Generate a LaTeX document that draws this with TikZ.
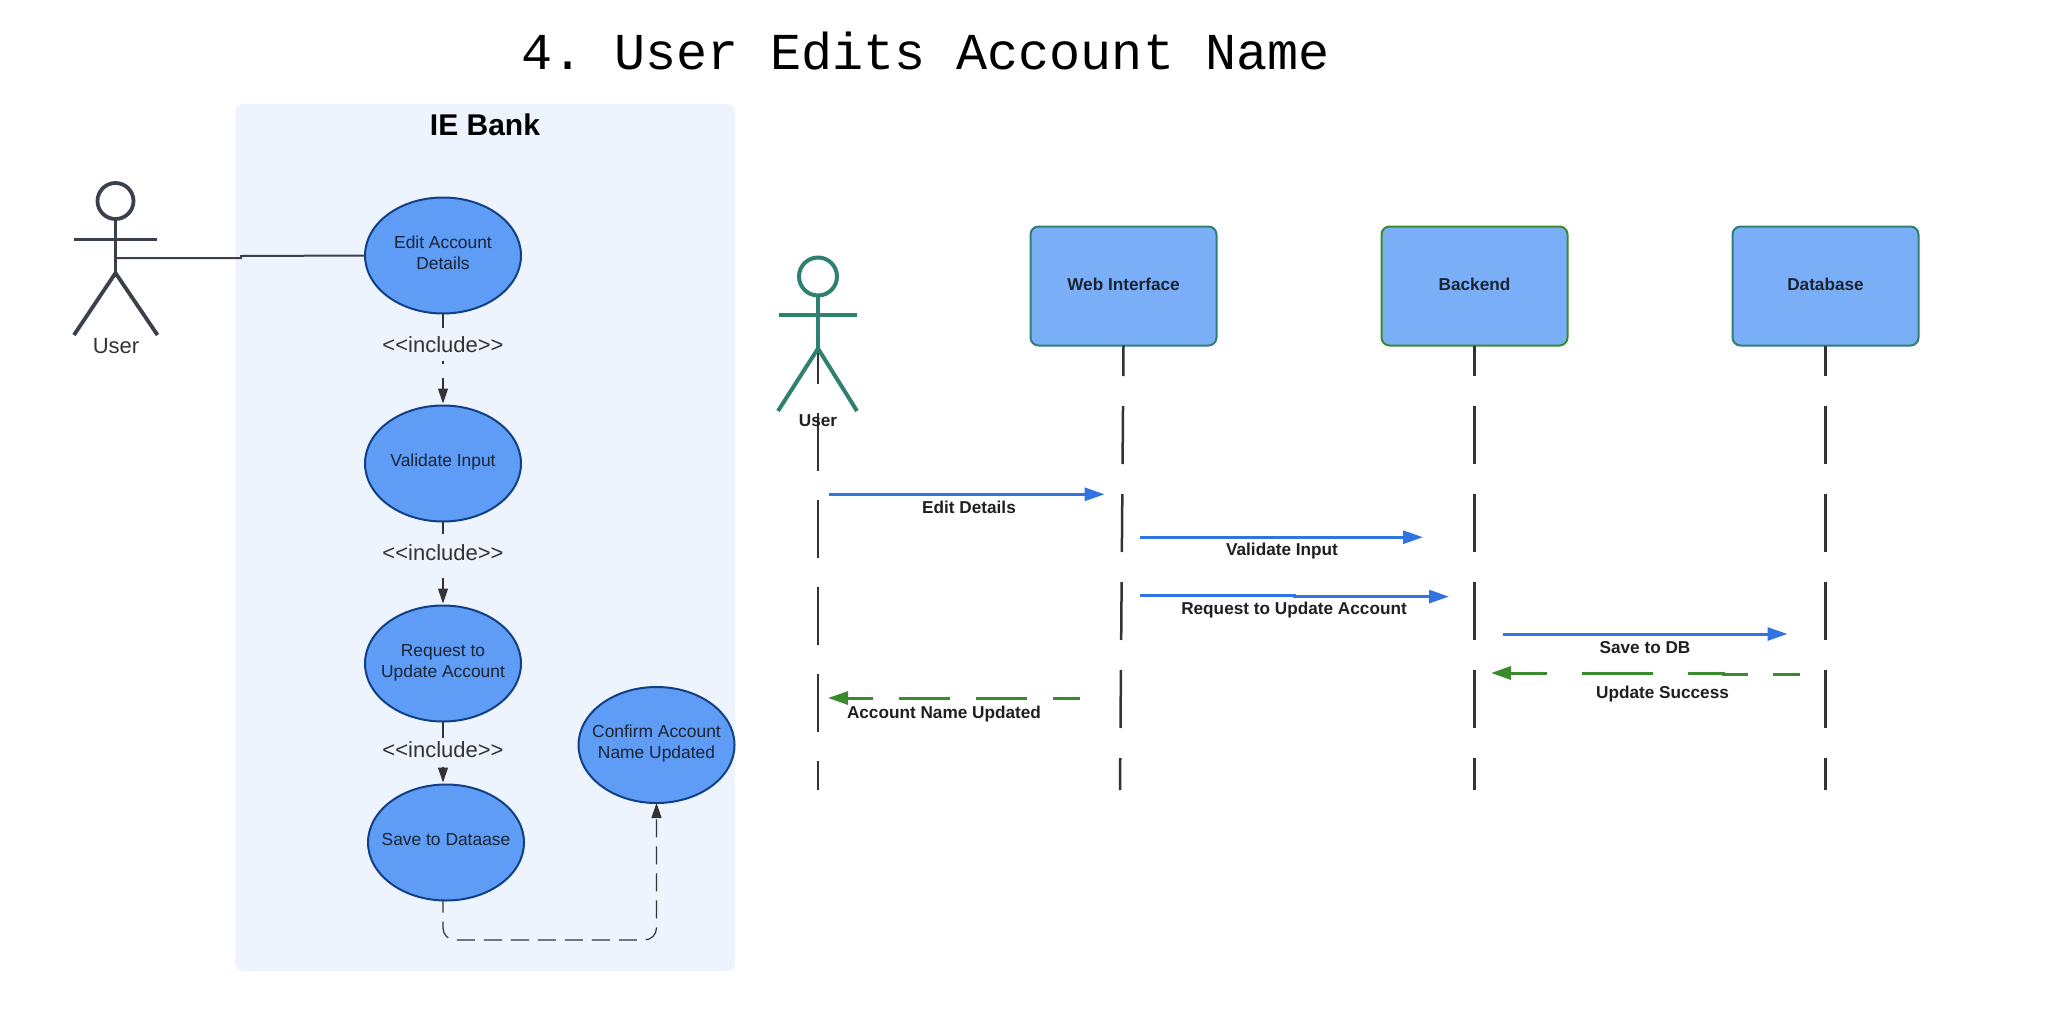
\documentclass[tikz,border=0pt]{standalone}
\usepackage{fontspec}
\setmainfont{Liberation Sans}
\newfontfamily\monof{Liberation Mono}
\usetikzlibrary{arrows.meta,shapes.geometric}
\frenchspacing
\definecolor{panelfill}{HTML}{EDF4FE}
\definecolor{usefill}{HTML}{5E9CF5}
\definecolor{usedraw}{HTML}{123F85}
\definecolor{boxfill}{HTML}{7AAFF8}
\definecolor{tealc}{HTML}{2F8070}
\definecolor{greenc}{HTML}{3A8A2E}
\definecolor{bluec}{HTML}{2F74E0}
\definecolor{darkc}{HTML}{333333}
\definecolor{actorc}{HTML}{3A414A}
\definecolor{inktext}{HTML}{1A2433}
\newcommand{\uctext}[1]{\raisebox{-3.3pt}{\smash{\makebox[0pt]{\begin{tabular}{@{}c@{}}#1\end{tabular}}}}}
\tikzset{
  usecase/.style={ellipse,draw=usedraw,fill=usefill,line width=1pt,minimum width=78pt,minimum height=58pt,inner sep=0pt,outer sep=0pt,align=center,text=inktext,font=\fontsize{8.7pt}{10.5pt}\selectfont},
  lifebox/.style={rectangle,rounded corners=4pt,fill=boxfill,line width=1pt,minimum width=93pt,minimum height=59.5pt,inner sep=0pt,outer sep=0pt,text=inktext,font=\bfseries\fontsize{8.6pt}{10.5pt}\selectfont},
  msglabel/.style={text=black!88,inner sep=0pt,font=\bfseries\fontsize{8.6pt}{10.5pt}\selectfont},
  inclabel/.style={text=darkc,inner sep=0pt,font=\fontsize{11pt}{13pt}\selectfont},
  inclink/.style={draw=darkc,line width=0.6pt,-{Triangle[length=7.5pt,width=5pt]},shorten >=1pt},
  lifeline/.style={draw=darkc,line width=1.25pt,dash pattern=on 29pt off 15pt,dash phase=13.75pt},
  callmsg/.style={draw=bluec,line width=1.5pt,-{Triangle[length=10pt,width=6.5pt]}},
  backmsg/.style={draw=greenc,line width=1.5pt,-{Triangle[length=10pt,width=6.5pt]}},
  actorline/.style={line width=1.9pt,line cap=butt},
}
\begin{document}
\begin{tikzpicture}[x=0.5pt,y=-0.5pt]
\useasboundingbox (0,0) rectangle (2066,1028);
\node[anchor=base,inner sep=0pt,text=black,font=\monof\fontsize{25.9pt}{30pt}\selectfont] (title) at (925.5,69) {4. User Edits Account Name};
% panel
\fill[panelfill,rounded corners=4pt] (235,104) rectangle (735,971);
\node[anchor=base,inner sep=0pt,text=black,font=\bfseries\fontsize{15pt}{18pt}\selectfont] (bank) at (485,135) {IE Bank};
% use cases
\node[usecase] (e1) at (443,255.5) {\uctext{Edit Account\\Details}};
\node[usecase] (e2) at (443,463.5) {\uctext{Validate Input}};
\node[usecase] (e3) at (443,663.5) {\uctext{Request to\\Update Account}};
\node[usecase] (e4) at (446,842.5) {\uctext{Save to Dataase}};
\node[usecase] (e5) at (656.5,745) {\uctext{Confirm Account\\Name Updated}};
% include links
\draw[inclink,dash pattern=on 7pt off 16.5pt on 1.5pt off 7pt on 30pt off 1pt] (e1.south) -- (e2.north);
\draw[inclink,dash pattern=on 6pt off 22pt on 30pt off 1pt] (e2.south) -- (e3.north);
\draw[inclink,dash pattern=on 8pt off 14.5pt on 30pt off 1pt] (e3.south) -- (e3.south |- e4.north);
\node[inclabel] (i1) at (443,345) {<{}<include>{}>};
\node[inclabel] (i2) at (443,553) {<{}<include>{}>};
\node[inclabel] (i3) at (443,750) {<{}<include>{}>};
% return link
\coordinate (rb) at (443,940);
\coordinate (rc) at (656.5,940);
\draw[inclink,shorten >=0pt,rounded corners=6pt,dash pattern=on 9pt off 4.5pt,dash phase=3pt] (e3.south |- e4.south) -- (rb) -- (rc) -- (e5.south);
% left actor
\node[circle,draw=actorc,line width=1.9pt,minimum size=18pt,inner sep=0pt,outer sep=0pt] (ua) at (115.5,201) {};
\coordinate (ua hip) at (115.5,273);
\coordinate (ua la) at (74,239.5);
\coordinate (ua ra) at (157,239.5);
\coordinate (ua ll) at (74,335);
\coordinate (ua rl) at (157.5,335);
\draw[actorc,actorline] (ua.south) -- (ua hip);
\draw[actorc,actorline] (ua la) -- (ua ra);
\draw[actorc,actorline,line join=miter] (ua ll) -- (ua hip) -- (ua rl);
\node[anchor=base,inner sep=0pt,text=darkc,font=\fontsize{11pt}{13pt}\selectfont] (ual) at (116,353) {User};
\coordinate (ua hand) at (116,258);
\coordinate (ua jog1) at (241,258);
\coordinate (ua jog2) at (241,256);
\draw[actorc,line width=1pt] (ua hand) -- (ua jog1) -- (ua jog2) -- (e1.west);
% lifeline boxes
\node[lifebox,draw=tealc] (web) at (1123.5,286) {\raisebox{1.7pt}{Web Interface}};
\node[lifebox,draw=greenc] (back) at (1474.5,286) {\raisebox{1.7pt}{Backend}};
\node[lifebox,draw=tealc] (db) at (1825.5,286) {\raisebox{1.7pt}{Database}};
\coordinate (web end) at (1120,790);
\coordinate (back end) at (1474.5,790);
\coordinate (db end) at (1825.5,790);
\draw[lifeline] (web.south) -- (web end);
\draw[lifeline] (back.south) -- (back end);
\draw[lifeline] (db.south) -- (db end);
% right actor
\coordinate (ub top) at (818,326);
\coordinate (ub end) at (818,790);
\draw[draw=darkc,line width=1.25pt,dash pattern=on 29pt off 14.5pt] (ub top) -- (ub end);
\node[circle,draw=tealc,line width=2pt,minimum size=19pt,inner sep=0pt,outer sep=0pt] (ub) at (818,276.5) {};
\coordinate (ub hip) at (818,348.5);
\coordinate (ub la) at (779,315);
\coordinate (ub ra) at (857,315);
\coordinate (ub ll) at (778,411);
\coordinate (ub rl) at (857,411);
\draw[tealc,line width=2pt] (ub.south) -- (ub hip);
\draw[tealc,line width=2pt] (ub la) -- (ub ra);
\draw[tealc,line width=2pt] (ub ll) -- (ub hip) -- (ub rl);
\node[msglabel,anchor=base] (ubl) at (818,426) {User};
% messages
\coordinate (m1a) at (829,494.3);
\coordinate (m1b) at (1104.6,494.3);
\draw[callmsg] (m1a) -- (m1b);
\node[msglabel] (m1) at (969,507.8) {Edit Details};
\coordinate (m2a) at (1140,537.2);
\coordinate (m2b) at (1423,537.2);
\draw[callmsg] (m2a) -- (m2b);
\node[msglabel] (m2) at (1282,551.3) {Validate Input};
\coordinate (m3a) at (1140,595.4);
\coordinate (m3j) at (1294,595.4);
\coordinate (m3k) at (1294,596.6);
\coordinate (m3b) at (1449,596.6);
\draw[callmsg] (m3a) -- (m3j) -- (m3k) -- (m3b);
\node[msglabel] (m3) at (1294,610.3) {Request to Update Account};
\coordinate (m4a) at (1503,634);
\coordinate (m4b) at (1787.5,634);
\draw[callmsg] (m4a) -- (m4b);
\node[msglabel] (m4) at (1645,647.5) {Save to DB};
\coordinate (m5a) at (1800,674.2);
\coordinate (m5j) at (1723.5,674.2);
\coordinate (m5k) at (1723.5,673);
\coordinate (m5b) at (1491,673);
\draw[backmsg,dash pattern=on 13.5pt off 12.5pt on 30.5pt off 17.5pt on 35.5pt off 17.5pt on 60pt off 1pt] (m5a) -- (m5j) -- (m5k) -- (m5b);
\node[msglabel] (m5) at (1662.5,694.5) {Update Success};
\coordinate (m6a) at (1080,698);
\coordinate (m6b) at (828,698);
\draw[backmsg,dash pattern=on 13.5pt off 13pt on 25.5pt off 13pt on 25.5pt off 13pt on 40pt off 1pt] (m6a) -- (m6b);
\node[msglabel] (m6) at (944,713.8) {Account Name Updated};
\end{tikzpicture}
\end{document}
